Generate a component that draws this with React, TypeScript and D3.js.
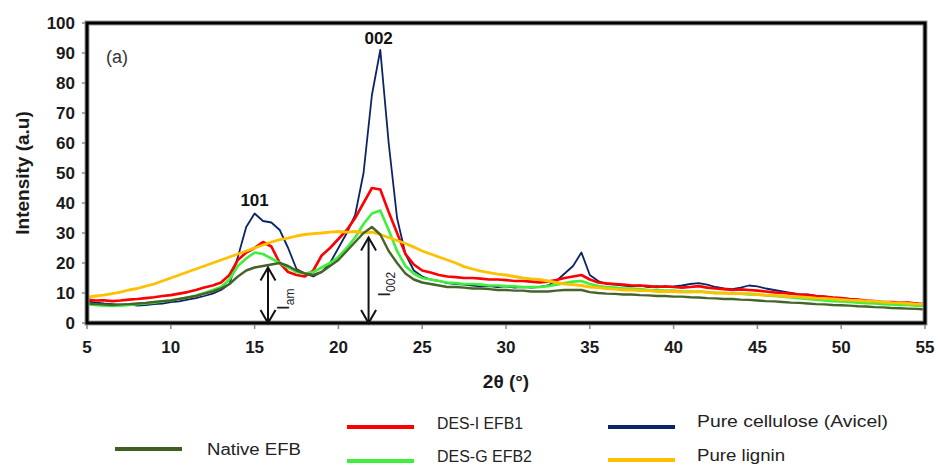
import React from "react";
import * as d3 from "d3";

// 2θ sampling grid (degrees)
const ANGLES: number[] = d3.range(5, 55.001, 0.5);

const X_TICKS = [5, 10, 15, 20, 25, 30, 35, 40, 45, 50, 55];
const Y_TICKS = [0, 10, 20, 30, 40, 50, 60, 70, 80, 90, 100];

const CELLULOSE = [
  7.2, 6.8, 6.5, 6.3, 6.0, 6.2, 5.8, 6.0, 6.3, 6.5,
  7.0, 7.2, 7.8, 8.3, 9.0, 9.8, 11.0, 13.0, 22.0, 32.0,
  36.5, 34.0, 33.5, 31.0, 25.0, 18.0, 16.5, 15.5, 17.0, 20.0,
  25.0, 30.0, 36.0, 50.0, 76.0, 91.0, 60.0, 35.0, 23.0, 17.5,
  15.5, 14.5, 14.0, 13.3, 13.0, 12.8, 12.5, 12.2, 12.3, 12.0,
  12.2, 11.8, 12.0, 11.8, 12.0, 12.5, 14.0, 16.5, 19.0, 23.5,
  16.0, 14.0, 13.0, 12.8, 12.5, 12.2, 12.5, 12.0, 12.3, 12.0,
  12.2, 12.5, 13.0, 13.3, 12.8, 12.0, 11.5, 11.3, 11.8, 12.5,
  12.2, 11.5, 11.0, 10.5, 10.0, 9.5, 9.5, 9.0, 8.8, 8.5,
  8.3, 8.0, 7.8, 7.3, 7.0, 6.8, 6.8, 6.5, 6.8, 6.5,
  6.0,
];

const DES_I = [
  7.8, 7.5, 7.6, 7.3, 7.5, 7.8, 8.0, 8.3, 8.6, 9.0,
  9.3, 9.8, 10.3, 11.0, 11.8, 12.5, 13.5, 16.0, 21.0, 23.5,
  25.0, 27.0, 25.5, 20.0, 17.0, 16.0, 15.5, 17.5, 22.5, 25.0,
  28.0, 31.0, 35.0, 40.0, 45.0, 44.5, 37.0, 30.0, 23.0, 19.5,
  17.5, 16.8, 16.0, 15.5, 15.3, 15.0, 15.0, 14.8, 14.5, 14.5,
  14.3, 14.0, 14.0, 13.8, 13.5, 13.8, 14.3, 15.0, 15.5, 16.0,
  14.5, 13.5, 13.2, 13.0, 12.8, 12.5, 12.5, 12.3, 12.0, 12.2,
  12.0, 11.8, 12.0, 12.3, 11.8, 11.5, 11.3, 11.0, 11.2, 11.0,
  10.8, 10.5, 10.2, 10.0, 9.8, 9.5, 9.3, 9.0, 8.8, 8.5,
  8.3, 8.0, 7.8, 7.5, 7.3, 7.0, 7.0, 6.8, 6.8, 6.5,
  6.3,
];

const DES_G = [
  6.3, 6.0, 5.8, 5.7, 5.8, 6.0, 6.3, 6.5, 6.8, 7.2,
  7.5, 8.0, 8.5, 9.2, 10.0, 11.0, 12.0, 14.5, 19.0, 21.5,
  23.5, 23.0, 21.5, 20.0, 18.5, 17.0, 16.5, 17.0, 18.5, 20.0,
  22.0, 25.0, 28.5, 33.0, 36.5, 37.5, 31.0, 24.0, 19.0, 16.5,
  15.0, 14.5, 14.0, 13.5, 13.3, 13.0, 13.0, 12.8, 12.5, 12.5,
  12.3, 12.2, 12.0, 12.0, 12.0, 12.3, 12.8, 13.3, 13.8, 14.0,
  13.0, 12.3, 12.0, 11.8, 11.5, 11.5, 11.3, 11.0, 11.0, 10.8,
  10.8, 10.5, 10.5, 10.5, 10.3, 10.0, 10.0, 9.8, 9.8, 9.5,
  9.5, 9.2, 9.0, 8.8, 8.5, 8.3, 8.0, 7.8, 7.5, 7.3,
  7.2, 7.0, 6.8, 6.6, 6.5, 6.3, 6.2, 6.0, 6.0, 5.8,
  5.7,
];

const NATIVE = [
  6.5, 6.3, 6.2, 6.0, 6.2, 6.3, 6.5, 6.7, 7.0, 7.3,
  7.5, 8.0, 8.5, 9.0, 9.8, 10.5, 11.5, 13.0, 15.5, 17.5,
  18.5, 19.0, 19.5, 20.0, 19.0, 17.5, 16.5, 16.0, 17.0, 19.0,
  21.0, 24.0, 27.0, 30.0, 32.0, 29.5, 24.0, 20.0, 16.5, 14.5,
  13.5, 13.0, 12.5, 12.0, 12.0, 11.8, 11.5, 11.5, 11.3, 11.0,
  11.0, 10.8, 10.8, 10.5, 10.5, 10.5, 10.8, 11.0, 11.0, 11.0,
  10.3, 10.0, 9.8, 9.7, 9.5, 9.5, 9.3, 9.2, 9.0, 9.0,
  8.8, 8.8, 8.6, 8.5, 8.3, 8.2, 8.0, 8.0, 7.8, 7.7,
  7.5, 7.3, 7.2, 7.0, 6.8, 6.7, 6.5, 6.3, 6.2, 6.0,
  5.9, 5.8, 5.6, 5.5, 5.3, 5.2, 5.0, 4.9, 4.8, 4.7,
  4.5,
];

const LIGNIN = [
  8.5, 9.0, 9.3, 9.8, 10.3, 11.0, 11.5, 12.3, 13.0, 14.0,
  15.0, 16.0, 17.0, 18.0, 19.0, 20.0, 21.0, 22.0, 23.0, 24.0,
  25.0, 26.0, 27.0, 27.8, 28.3, 29.0, 29.5, 29.8, 30.0, 30.3,
  30.5, 30.3, 30.5, 30.0, 30.3, 29.5, 28.5, 27.5, 26.5, 25.3,
  24.0, 23.0, 22.0, 21.0, 20.0, 18.8, 18.0, 17.3, 16.8, 16.3,
  16.0, 15.5, 15.0, 14.7, 14.5, 14.0, 13.5, 13.0, 12.8, 12.5,
  12.0, 11.8, 11.5, 11.3, 11.0, 11.0, 10.8, 10.8, 10.5, 10.5,
  10.5, 10.3, 10.3, 10.5, 10.2, 10.0, 10.0, 9.8, 9.8, 9.8,
  9.5, 9.3, 9.2, 9.0, 8.8, 8.7, 8.5, 8.3, 8.2, 8.0,
  7.8, 7.6, 7.5, 7.3, 7.2, 7.0, 6.8, 6.7, 6.5, 6.3,
  6.2,
];

// Draw order (bottom to top)
const SERIES = [
  { name: "Pure cellulose (Avicel)", values: CELLULOSE, color: "#0B2466", width: 1.8 },
  { name: "DES-I EFB1", values: DES_I, color: "#FF0000", width: 2.6 },
  { name: "DES-G EFB2", values: DES_G, color: "#3CF03C", width: 2.6 },
  { name: "Pure lignin", values: LIGNIN, color: "#FFC000", width: 2.8 },
  { name: "Native EFB", values: NATIVE, color: "#46632A", width: 2.4 },
];

const LEGEND = [
  { name: "Native EFB", color: "#3F5F23", lx: 115, ly: 449, tx: 207, ty: 455, tw: 94 },
  { name: "DES-I EFB1", color: "#FF0000", lx: 347, ly: 427, tx: 437, ty: 429, tw: 86 },
  { name: "DES-G EFB2", color: "#3CF03C", lx: 347, ly: 461, tx: 437, ty: 462, tw: 95 },
  { name: "Pure cellulose (Avicel)", color: "#0B2466", lx: 608, ly: 427, tx: 697, ty: 427, tw: 191 },
  { name: "Pure lignin", color: "#FFC000", lx: 608, ly: 460, tx: 697, ty: 461, tw: 88 },
];

// Peak annotations [angle, intensity]
const PEAK_LABELS = [
  { text: "101", angle: 15.0, value: 38.5 },
  { text: "002", angle: 22.4, value: 92.5 },
];
const ARROWS = [
  { angle: 15.8, top: 18.5, main: "I", sub: "am" },
  { angle: 21.8, top: 28.5, main: "I", sub: "002" },
];

const W = 937;
const H = 468;
const M = { left: 87, right: 925, top: 23, bottom: 323 };

export default function App() {
  const x = d3.scaleLinear().domain([5, 55]).range([M.left, M.right]);
  const y = d3.scaleLinear().domain([0, 100]).range([M.bottom, M.top]);
  const line = d3
    .line<number>()
    .x((_, i) => x(ANGLES[i]))
    .y((d) => y(d));

  const font = "'Liberation Sans', Arial, sans-serif";

  return (
    <svg
      width={W}
      height={H}
      style={{ position: "absolute", left: 0, top: 0, background: "#fff" }}
      fontFamily={font}
    >
      <defs>
        <clipPath id="plot">
          <rect x={M.left} y={M.top} width={M.right - M.left} height={M.bottom - M.top} />
        </clipPath>
      </defs>

      {/* series */}
      <g clipPath="url(#plot)">
        {SERIES.map((s) => (
          <path
            key={s.name}
            d={line(s.values) || ""}
            fill="none"
            stroke={s.color}
            strokeWidth={s.width}
            strokeLinejoin="round"
          />
        ))}
      </g>

      {/* frame */}
      <rect
        x={M.left}
        y={M.top}
        width={M.right - M.left}
        height={M.bottom - M.top}
        fill="none"
        stroke="#999"
        strokeWidth={5}
      />
      <rect
        x={M.left}
        y={M.top}
        width={M.right - M.left}
        height={M.bottom - M.top}
        fill="none"
        stroke="#000"
        strokeWidth={3}
      />

      {/* x ticks */}
      {X_TICKS.map((t) => (
        <g key={"x" + t}>
          <line x1={x(t)} x2={x(t)} y1={M.bottom + 2} y2={M.bottom + 6} stroke="#888" strokeWidth={1.5} />
          <text x={x(t)} y={353} textAnchor="middle" fontSize={17} fontWeight="bold" fill="#1a1a1a">
            {t}
          </text>
        </g>
      ))}

      {/* y ticks */}
      {Y_TICKS.map((t) => (
        <g key={"y" + t}>
          <line x1={M.left - 5} x2={M.left - 2} y1={y(t)} y2={y(t)} stroke="#888" strokeWidth={1.5} />
          <text x={75} y={y(t) + 6} textAnchor="end" fontSize={17} fontWeight="bold" fill="#1a1a1a">
            {t}
          </text>
        </g>
      ))}

      {/* axis titles */}
      <text
        transform={`translate(29, ${(M.top + M.bottom) / 2}) rotate(-90)`}
        textAnchor="middle"
        fontSize={19}
        fontWeight="bold"
        fill="#1a1a1a"
      >
        Intensity (a.u)
      </text>
      <text x={506} y={388} textAnchor="middle" fontSize={19} fontWeight="bold" fill="#1a1a1a">
        2θ (°)
      </text>

      {/* panel label */}
      <text x={106} y={63} fontSize={18} fill="#333">
        (a)
      </text>

      {/* peak labels */}
      {PEAK_LABELS.map((p) => (
        <text
          key={p.text}
          x={x(p.angle)}
          y={y(p.value) - 2}
          textAnchor="middle"
          fontSize={17}
          fontWeight="bold"
          fill="#111"
        >
          {p.text}
        </text>
      ))}

      {/* intensity arrows */}
      {ARROWS.map((a) => {
        const ax = x(a.angle);
        const yt = y(a.top);
        const yb = y(0);
        const hw = 7.5;
        const hh = 13;
        return (
          <g key={a.sub} stroke="#111" strokeWidth={2} fill="none">
            <line x1={ax} x2={ax} y1={yt} y2={yb} />
            <path d={`M${ax - hw},${yt + hh} L${ax},${yt} L${ax + hw},${yt + hh}`} />
            <path d={`M${ax - hw},${yb - hh} L${ax},${yb} L${ax + hw},${yb - hh}`} />
            <text
              transform={`translate(${ax + 21}, ${(yt + yb) / 2 + 4}) rotate(-90)`}
              textAnchor="middle"
              fontSize={17}
              fill="#222"
              stroke="none"
            >
              {a.main}
              <tspan fontSize={12} dy={5}>
                {a.sub}
              </tspan>
            </text>
          </g>
        );
      })}

      {/* legend */}
      {LEGEND.map((l) => (
        <g key={l.name}>
          <line x1={l.lx} x2={l.lx + 67} y1={l.ly} y2={l.ly} stroke={l.color} strokeWidth={4} />
          <text
            x={l.tx}
            y={l.ty}
            fontSize={16}
            fill="#222"
            textLength={l.tw}
            lengthAdjust="spacingAndGlyphs"
          >
            {l.name}
          </text>
        </g>
      ))}
    </svg>
  );
}
